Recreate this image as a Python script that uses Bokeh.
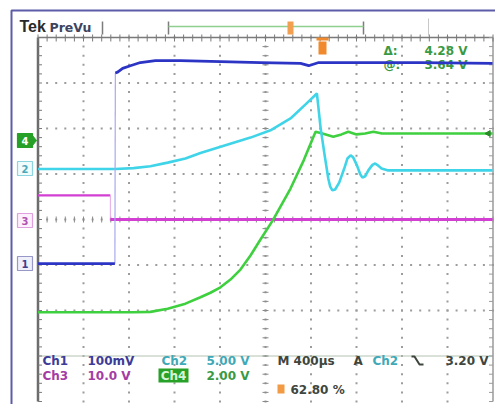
import numpy as np
from bokeh.plotting import figure
from bokeh.models import Range1d
from bokeh.core.properties import value
from bokeh.embed import file_html
from bokeh.resources import INLINE

# ---------------- data (screen divisions: x 0..10, y -4..4) ----------------
ch1_low_t = [0.0, 1.69]
ch1_low_v = [-0.97, -0.97]
ch1_high_t = [1.70, 1.75, 1.86, 2.03, 2.25, 2.58, 3.13, 4.01, 4.89, 5.77, 5.95, 6.17, 7.09, 8.41, 9.99]
ch1_high_v = [3.22, 3.24, 3.32, 3.38, 3.45, 3.49, 3.49, 3.47, 3.45, 3.43, 3.38, 3.45, 3.45, 3.45, 3.43]

ch2_t = [0.0, 1.70, 2.10, 2.47, 2.85, 3.24, 3.57, 4.12, 4.67, 5.11, 5.55, 5.88, 6.13, 6.21, 6.30, 6.38,
         6.42, 6.47, 6.53, 6.62, 6.73, 6.80, 6.87, 6.93, 7.01, 7.08, 7.13, 7.19, 7.26, 7.35, 7.41, 7.47,
         7.55, 7.68, 8.41, 9.99]
ch2_v = [1.11, 1.11, 1.13, 1.17, 1.25, 1.34, 1.46, 1.63, 1.80, 1.96, 2.22, 2.53, 2.77, 2.02, 1.41, 0.90,
         0.73, 0.64, 0.66, 0.81, 1.12, 1.34, 1.41, 1.36, 1.19, 1.00, 0.92, 0.95, 1.08, 1.20, 1.23, 1.19,
         1.12, 1.08, 1.08, 1.08]

ch3_high_t = [0.0, 1.59]
ch3_high_v = [0.53, 0.53]
ch3_low_t = [1.59, 9.99]
ch3_low_v = [0.0, 0.0]

ch4_t = [0.0, 2.10, 2.47, 2.85, 3.24, 3.57, 3.79, 4.01, 4.23, 4.45, 4.67, 4.89, 5.16, 5.55, 5.84, 6.10, 6.25,
         6.49, 6.67, 6.82, 7.00, 7.19, 7.37, 7.56, 8.41, 9.99]
ch4_v = [-2.04, -2.04, -2.03, -1.96, -1.85, -1.71, -1.61, -1.49, -1.32, -1.10, -0.79, -0.44, -0.02, 0.68, 1.30,
         1.93, 1.89, 1.82, 1.87, 1.93, 1.87, 1.89, 1.93, 1.89, 1.89, 1.89]

channel_names = ["Ch1", "Ch2", "Ch3", "Ch4"]
channel_scales = ["100mV", "5.00 V", "10.0 V", "2.00 V"]
timebase = "M 400µs"
trigger_level = "3.20 V"
cursor_a = "4.28 V"
cursor_b = "3.64 V"
trigger_pos = "62.80 %"

# ---------------- colours ----------------
C1, C2, C3, C4 = "#2b34c4", "#3fd4e8", "#d23fd2", "#3fd03f"
T1, T2, T3, T4 = "#3c3c98", "#3fa9b8", "#a43ca4", "#3a9a44"

# screen-pixel helpers for decorations (picture px -> division units)
def X(px):
    return (px - 37.5) / 45.5

def Y(py):
    return (219.0 - py) / 45.5

W, H = 495, 404
p = figure(width=W, height=H, output_backend="svg", toolbar_location=None,
           x_range=Range1d(X(0), X(W)), y_range=Range1d(Y(H), Y(0)),
           min_border=0, background_fill_color="white")
p.axis.visible = False
p.grid.visible = False
p.outline_line_color = None

# outer purple frame
p.line([X(11), X(11), X(500)], [Y(410), Y(10), Y(10)], color="#5c5ca8", line_width=2)

# ---------------- graticule ----------------
ys = np.round(np.arange(-4, 4.001, 0.2), 3)
xs = np.round(np.arange(0, 10.001, 0.2), 3)
dx, dy = [], []
for gx in [1, 2, 3, 4, 5, 6, 7, 8, 9]:
    dx += [gx] * len(ys); dy += list(ys)
for gy in [-2, -1, 0, 1, 2, 3]:
    dx += list(xs); dy += [gy] * len(xs)
p.scatter(dx, dy, marker="square", size=2, color="#9c9c9c", line_color=None)
# solid row at -3 div
p.line([0, 10], [-3, -3], color="#b2c2b2", line_width=1)
# centre-line ticks
tk = 3.0 / 45.5
p.segment(x0=list(xs), y0=[-tk] * len(xs), x1=list(xs), y1=[tk] * len(xs), color="#8a8a8a", line_width=1)
p.segment(x0=[5 - tk] * len(ys), y0=list(ys), x1=[5 + tk] * len(ys), y1=list(ys), color="#8a8a8a", line_width=1)
# edges
p.line([0, 0], [-4, 4], color="#6c6c6c", line_width=2.5)
p.line([10, 10], [-4, 4], color="#9a9a9a", line_width=1.5)
p.line([0, 10], [4, 4], color="#7a7a7a", line_width=1.5)
p.segment(x0=[0] * len(ys), y0=list(ys), x1=[4 / 45.5] * len(ys), y1=list(ys), color="#7a7a7a", line_width=1)
p.segment(x0=[10 - 4 / 45.5] * len(ys), y0=list(ys), x1=[10] * len(ys), y1=list(ys), color="#9a9a9a", line_width=1)
p.segment(x0=list(xs), y0=[4 - 4 / 45.5] * len(xs), x1=list(xs), y1=[4 + 3 / 45.5] * len(xs), color="#7a7a7a", line_width=1)

# ---------------- header ----------------
def txt(px, py, s, color, size="12px", align="left", style="bold", font="DejaVu Sans"):
    p.text(x=[X(px)], y=[Y(py)], text=[s], text_color=color, text_font=value(font),
           text_font_size=size, text_font_style=style, text_align=align, text_baseline="middle")

txt(19, 26, "Tek", "#2a2a2a", size="16px", font="Liberation Sans")
txt(49, 27, "PreVu", "#3c4460", size="12.5px")
p.segment(x0=[X(102), X(168), X(363)], y0=[Y(21)] * 3, x1=[X(102), X(168), X(363)], y1=[Y(34)] * 3,
          color="#7c7c7c", line_width=1.5)
p.line([X(428), X(428)], [Y(18), Y(35)], color="#c8c8c8", line_width=1)
p.line([X(168), X(363)], [Y(26), Y(26)], color="#8fd08f", line_width=1.5)
p.quad(left=[X(287)], right=[X(293)], top=[Y(21)], bottom=[Y(34)], fill_color="#f2a050", line_color=None)
# trigger position marker
p.quad(left=[X(318)], right=[X(326)], top=[Y(41)], bottom=[Y(54)], fill_color="#f08a2c", line_color=None)
p.quad(left=[X(316)], right=[X(328)], top=[Y(37)], bottom=[Y(40)], fill_color="#f08a2c", line_color=None)

# cursor readouts
txt(383, 50, "Δ:", T4)
txt(467, 50, cursor_a, T4, align="right")
txt(383, 64, "@:", T4)
txt(467, 64, cursor_b, T4, align="right")

# ---------------- channel ground markers ----------------
marks = [("4", 140, "#26a026", "#26a026", "white"),
         ("2", 168, "#f0fbfc", "#8cd4e0", "#4aa8b8"),
         ("3", 220, "#fdf0fd", "#e0a0e0", "#b050b0"),
         ("1", 263, "#f0f0fa", "#9898c8", "#404090")]
for lab, cy, fc, lc, tc in marks:
    p.quad(left=[X(17)], right=[X(32)], top=[Y(cy - 7)], bottom=[Y(cy + 7)],
           fill_color=fc, line_color=lc, line_width=1.2)
    txt(24.5, cy, lab, tc, size="10px", align="center")
p.patch([X(32), X(36), X(32)], [Y(135), Y(140), Y(145)], color="#26a026")

# ---------------- bottom readouts ----------------
txt(42, 360, channel_names[0], T1)
txt(87, 360, channel_scales[0], T1)
txt(161, 360, channel_names[1], T2)
txt(249, 360, channel_scales[1], T2, align="right")
txt(42, 375, channel_names[2], T3)
txt(87, 375, channel_scales[2], T3)
p.quad(left=[X(158)], right=[X(188)], top=[Y(368)], bottom=[Y(382)], fill_color="#27a127", line_color=None)
txt(173, 375, channel_names[3], "#d8f4d8", align="center")
txt(249, 375, channel_scales[3], T4, align="right")
txt(277, 360, timebase, "#3e463e")
txt(353, 360, "A", "#3e463e")
txt(372, 360, channel_names[1], T2)
p.line([X(411), X(414), X(419), X(423)], [Y(356), Y(356), Y(364), Y(364)], color="#3e463e", line_width=2)
txt(488, 360, trigger_level, "#3e463e", align="right")
p.quad(left=[X(277)], right=[X(284)], top=[Y(384)], bottom=[Y(393)], fill_color="#f29a44", line_color=None)
txt(290, 389, trigger_pos, "#3e463e")

# ---------------- traces ----------------
p.line(ch3_high_t, ch3_high_v, color=C3, line_width=2.2)
p.line([ch3_high_t[-1], ch3_low_t[0]], [ch3_high_v[-1], ch3_low_v[0]], color="#e6a6e6", line_width=1)
p.line(ch3_low_t, ch3_low_v, color=C3, line_width=2.8)
p.line(ch4_t, ch4_v, color=C4, line_width=2.6)
p.line(ch2_t, ch2_v, color=C2, line_width=2.6)
p.line([ch1_low_t[-1], ch1_high_t[0]], [ch1_low_v[-1], ch1_high_v[0]], color="#a8a8f0", line_width=1.2)
p.line(ch1_low_t, ch1_low_v, color=C1, line_width=2.8)
p.line(ch1_high_t, ch1_high_v, color=C1, line_width=2.8)
p.scatter([9.9], [1.89], marker="triangle", angle=1.5708, size=6, color="#2a8a2a")

open("out.html", "w").write(file_html(p, INLINE))
